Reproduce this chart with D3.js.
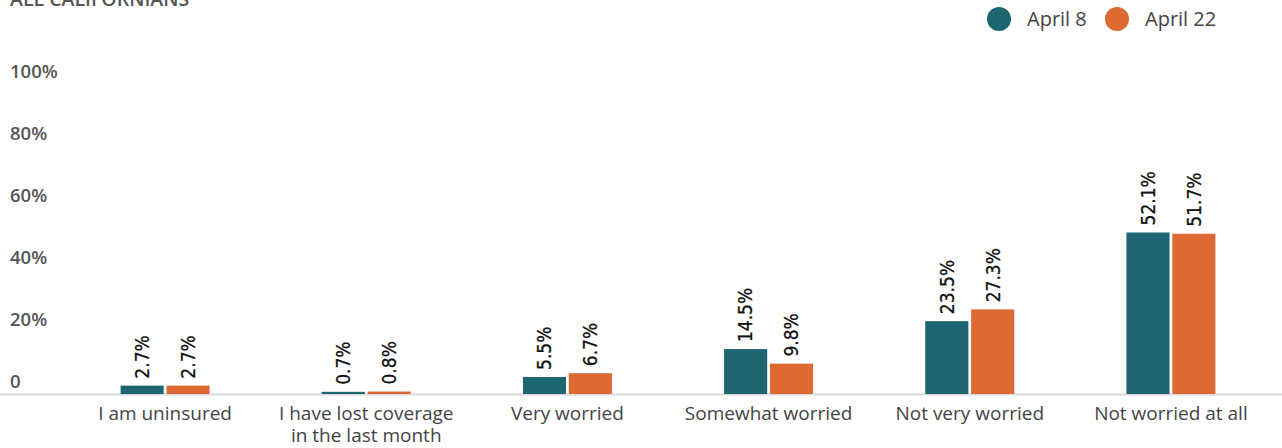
<!DOCTYPE html>
<html>
<head>
<meta charset="utf-8">
<script src="https://cdn.jsdelivr.net/npm/d3@7"></script>
<style>
  html, body { margin: 0; padding: 0; background: #fff; }
  svg { display: block; }
</style>
</head>
<body>
<svg id="chart" width="1282" height="448"></svg>
<script>
// Health coverage worry, all Californians, two survey waves
const categories = [
  ["I am uninsured"],
  ["I have lost coverage", "in the last month"],
  ["Very worried"],
  ["Somewhat worried"],
  ["Not very worried"],
  ["Not worried at all"]
];
const seriesNames = ["April 8", "April 22"];
const april8 = [2.7, 0.7, 5.5, 14.5, 23.5, 52.1];
const april22 = [2.7, 0.8, 6.7, 9.8, 27.3, 51.7];
const yTicks = [0, 20, 40, 60, 80, 100];
const colors = ["#1d6570", "#dd6a33"];

const svg = d3.select("#chart");
const W = 1282, H = 448;
const baseY = 394, topY = 84;
const uiFont = "'Open Sans', 'Noto Sans', sans-serif";

const x0 = d3.scaleBand()
  .domain(d3.range(categories.length))
  .range([64.5, 1271.5])
  .paddingInner(0).paddingOuter(0);

const x1 = d3.scaleBand()
  .domain(seriesNames)
  .range([0, 89])
  .paddingInner(0.06);

const y = d3.scaleLinear().domain([0, 100]).range([baseY, topY]);

// Title
svg.append("text")
  .attr("x", 10).attr("y", 6)
  .attr("font-family", uiFont)
  .attr("font-size", 19.5).attr("font-weight", 600)
  .attr("fill", "#555")
  .text("ALL CALIFORNIANS");

// Y axis labels (sit just above their value lines)
const yAxis = d3.axisLeft(y).tickValues(yTicks)
  .tickFormat(d => d === 0 ? "0" : d + "%")
  .tickSize(0);
const yg = svg.append("g").call(yAxis);
yg.select(".domain").remove();
yg.selectAll("text")
  .attr("x", 10).attr("dy", "-0.33em")
  .attr("text-anchor", "start")
  .attr("font-family", uiFont)
  .attr("font-size", 18.5).attr("font-weight", 600)
  .attr("fill", "#555");

// Baseline
svg.append("line")
  .attr("x1", 0).attr("x2", W)
  .attr("y1", baseY + 0.5).attr("y2", baseY + 0.5)
  .attr("stroke", "#d9d9d9").attr("stroke-width", 2);

// Bars
const rows = categories.map((c, i) => ({
  i,
  vals: [
    { key: seriesNames[0], v: april8[i], c: colors[0] },
    { key: seriesNames[1], v: april22[i], c: colors[1] }
  ]
}));

const groups = svg.append("g").selectAll("g")
  .data(rows).join("g")
  .attr("transform", d => `translate(${x0(d.i) + (x0.bandwidth() - 89) / 2},0)`);

groups.selectAll("rect")
  .data(d => d.vals).join("rect")
  .attr("x", d => x1(d.key))
  .attr("width", x1.bandwidth())
  .attr("y", d => y(d.v))
  .attr("height", d => baseY - y(d.v))
  .attr("fill", d => d.c);

// Value labels, rotated above each bar
groups.selectAll("text.val")
  .data(d => d.vals).join("text")
  .attr("class", "val")
  .attr("transform", d => `translate(${x1(d.key) + x1.bandwidth() / 2},${y(d.v) - 7}) rotate(-90)`)
  .attr("dy", "0.36em")
  .attr("text-anchor", "start")
  .attr("font-family", "'DejaVu Sans Condensed', 'DejaVu Sans', sans-serif")
  .attr("font-size", 19)
  .attr("fill", "#111")
  .attr("stroke", "#111")
  .attr("stroke-width", 0.25)
  .text(d => d.v.toFixed(1) + "%");

// Category labels
const xl = svg.append("g").selectAll("text")
  .data(categories).join("text")
  .attr("x", (d, i) => x0(i) + x0.bandwidth() / 2)
  .attr("y", 420)
  .attr("text-anchor", "middle")
  .attr("font-family", uiFont)
  .attr("font-size", 19)
  .attr("fill", "#444");
xl.selectAll("tspan")
  .data(d => d).join("tspan")
  .attr("x", function () { return this.parentNode.getAttribute("x"); })
  .attr("dy", (d, j) => j === 0 ? 0 : 22)
  .text(d => d);

// Legend
const legend = svg.append("g");
const legendItems = [
  { name: seriesNames[0], c: colors[0], cx: 999 },
  { name: seriesNames[1], c: colors[1], cx: 1117 }
];
legend.selectAll("circle")
  .data(legendItems).join("circle")
  .attr("cx", d => d.cx).attr("cy", 19).attr("r", 12)
  .attr("fill", d => d.c);
legend.selectAll("text")
  .data(legendItems).join("text")
  .attr("x", d => d.cx + 28).attr("y", 19)
  .attr("dy", "0.35em")
  .attr("font-family", uiFont)
  .attr("font-size", 20)
  .attr("fill", "#444")
  .text(d => d.name);
</script>
</body>
</html>
